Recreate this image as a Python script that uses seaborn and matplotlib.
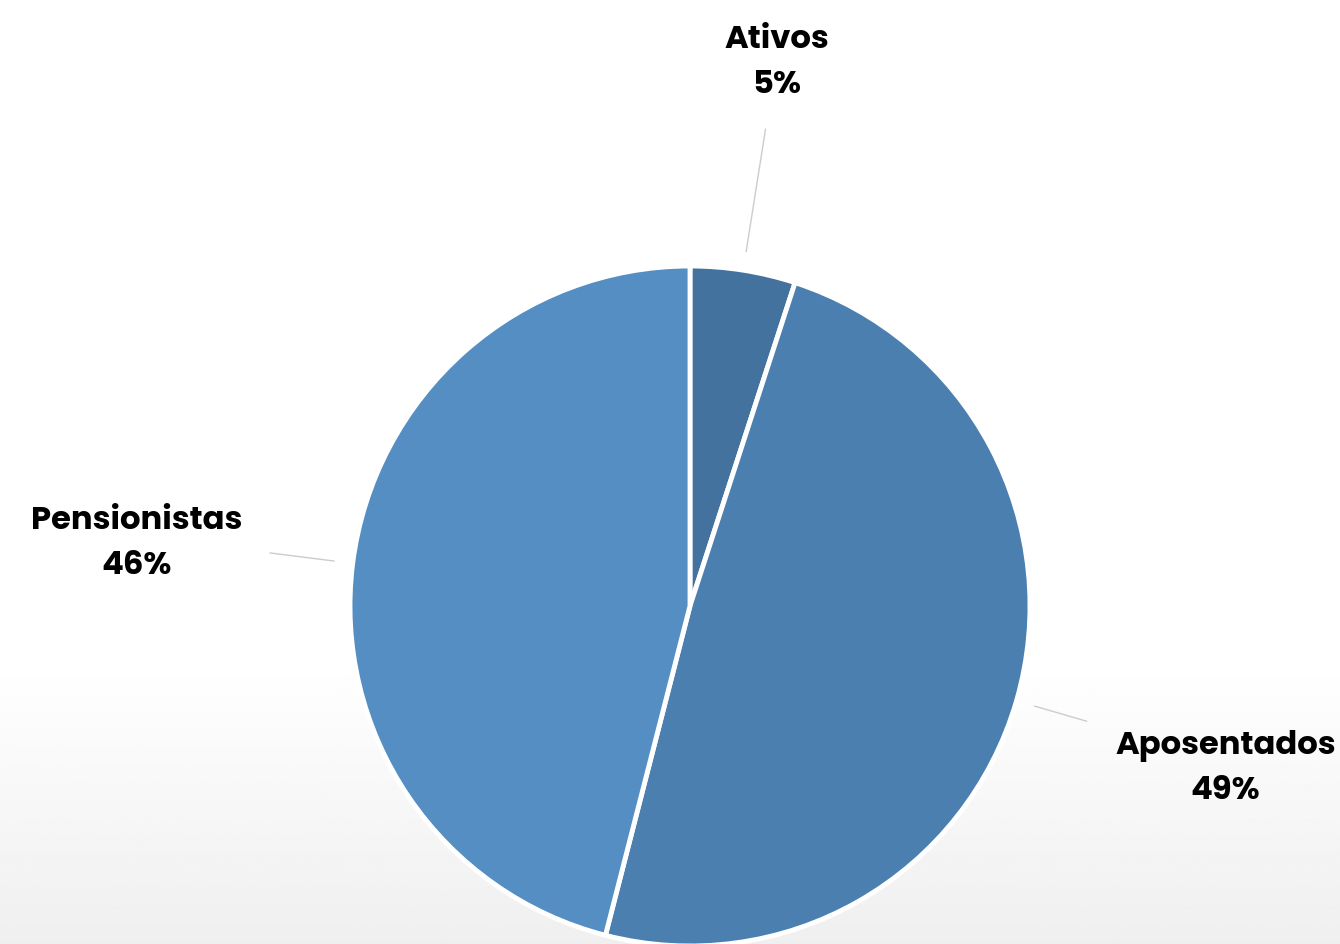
import numpy as np
import matplotlib
matplotlib.use("Agg")
import matplotlib.pyplot as plt
import seaborn as sns

categories = ["Ativos", "Aposentados", "Pensionistas"]
values = [5, 49, 46]
colors = ["#44729E", "#4A7FB0", "#548EC3"]

sns.set_theme(style="white")
plt.rcParams["font.family"] = ["Poppins", "Inter", "DejaVu Sans"]

W, H = 1340, 945
fig = plt.figure(figsize=(W / 100, H / 100), dpi=100)

# background gradient
bg = fig.add_axes([0, 0, 1, 1])
ys = np.linspace(0, 1, 400)
grad = np.clip((ys - 0.70) / 0.30, 0, 1)
col = 1.0 - grad * (1.0 - 0.937)
img = np.repeat(col[:, None], 2, axis=1)
bg.imshow(img, cmap="gray", vmin=0, vmax=1, aspect="auto", extent=[0, 1, 1, 0])
bg.set_xlim(0, 1)
bg.set_ylim(1, 0)
bg.axis("off")

ax = fig.add_axes([0, 0, 1, 1])
ax.patch.set_alpha(0)

cx, cy, r = 690, H - 607, 340
wedges, _ = ax.pie(values, colors=colors, startangle=90, counterclock=False,
                   center=(cx, cy), radius=r,
                   wedgeprops=dict(edgecolor="white", linewidth=3.5))
ax.set_xlim(0, W)
ax.set_ylim(0, H)
ax.set_aspect("equal")
ax.axis("off")

outer = {"Ativos": 1.42, "Aposentados": 1.215, "Pensionistas": 1.245}
total = sum(values)
start = 0.0
for cat, v in zip(categories, values):
    mid = start + v / total * 360 / 2
    start += v / total * 360
    a = np.deg2rad(90 - mid)
    dx, dy = np.cos(a), np.sin(a)
    ax.plot([cx + dx * r * 1.055, cx + dx * r * outer[cat]],
            [cy + dy * r * 1.055, cy + dy * r * outer[cat]],
            color="#cccccc", lw=1.0)
    ax.text(cx + dx * r * 1.64, cy + dy * r * 1.64 - 6, f"{cat}\n{v}%",
            ha="center", va="center", fontsize=23.2, fontweight="bold",
            color="#000000", linespacing=1.55)

fig.savefig("out.png", dpi=100)
